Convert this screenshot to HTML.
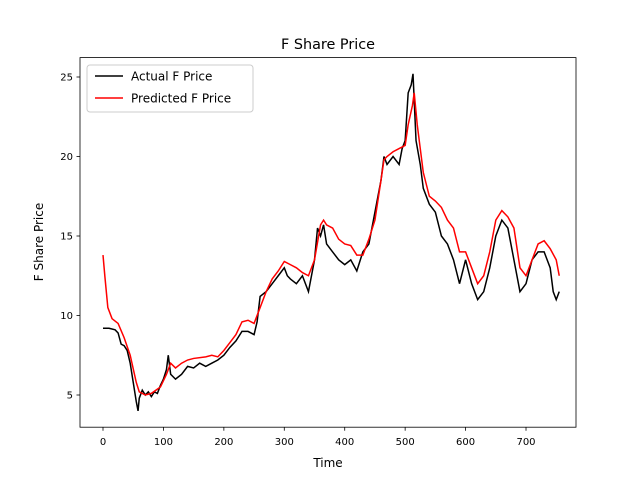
<!DOCTYPE html>
<html><head><meta charset="utf-8"><style>
body{margin:0;background:#fff}
text{font-family:"DejaVu Sans","Liberation Sans",sans-serif;fill:#000}
</style></head><body>
<svg id="chart" width="640" height="480" xmlns="http://www.w3.org/2000/svg">
<rect width="640" height="480" fill="#fff"/>
<text x="328" y="49" font-size="14.4" text-anchor="middle">F Share Price</text>
<g id="plot"></g>
<rect x="80" y="57.6" width="496" height="369.6" fill="none" stroke="#000" stroke-width="0.8"/>
<text x="328" y="467" font-size="12" text-anchor="middle">Time</text>
<text transform="translate(43,242) rotate(-90)" font-size="12" text-anchor="middle">F Share Price</text>
<g>
<rect x="87" y="65" width="166" height="47" rx="3" fill="#fff" fill-opacity="0.8" stroke="#ccc" stroke-width="1"/>
<line x1="95" y1="76" x2="123" y2="76" stroke="#000" stroke-width="1.5"/>
<text x="131" y="80.5" font-size="12">Actual F Price</text>
<line x1="95" y1="98" x2="123" y2="98" stroke="red" stroke-width="1.5"/>
<text x="131" y="102.5" font-size="12">Predicted F Price</text>
</g>
</svg>
<script>
const xTicks=[0,100,200,300,400,500,600,700];
const yTicks=[5,10,15,20,25];
const actualT=[0,10,20,25,30,35,40,45,50,55,58,60,65,70,75,80,85,90,95,100,105,108,112,120,130,140,150,160,170,180,190,200,210,220,230,240,250,255,260,270,280,290,300,305,310,320,330,340,350,355,360,365,370,380,390,400,410,420,430,440,450,460,465,470,480,490,495,500,505,510,513,518,525,530,540,550,560,570,580,590,600,610,620,630,640,650,660,670,680,690,700,710,720,730,740,745,750,755];
const actualV=[9.2,9.2,9.1,8.9,8.2,8.1,7.8,7.0,5.8,4.6,4.0,4.8,5.3,5.0,5.2,4.9,5.2,5.1,5.6,6.0,6.6,7.5,6.3,6.0,6.3,6.8,6.7,7.0,6.8,7.0,7.2,7.5,8.0,8.4,9.0,9.0,8.8,9.6,11.2,11.5,12.0,12.5,13.0,12.5,12.3,12.0,12.5,11.5,13.5,15.5,15.0,15.7,14.5,14.0,13.5,13.2,13.5,12.8,14.0,14.5,16.5,18.5,20.0,19.5,20.0,19.5,20.5,21.0,24.0,24.5,25.2,21.0,19.5,18.0,17.0,16.5,15.0,14.5,13.5,12.0,13.5,12.0,11.0,11.5,13.0,15.0,16.0,15.5,13.5,11.5,12.0,13.5,14.0,14.0,13.0,11.5,11.0,11.5];
const predT=[0,3,8,15,25,35,45,55,60,70,80,95,105,112,120,130,140,150,170,180,190,200,210,220,230,240,250,260,270,280,290,300,310,320,330,340,350,360,365,370,380,390,400,410,420,430,440,450,460,465,470,480,490,500,505,512,515,520,525,530,540,550,560,570,580,590,600,610,620,630,640,650,660,670,680,690,700,710,720,730,740,750,755];
const predV=[13.8,12.5,10.5,9.8,9.5,8.6,7.5,5.8,5.2,5.0,5.1,5.5,6.3,7.0,6.7,7.0,7.2,7.3,7.4,7.5,7.4,7.8,8.3,8.8,9.6,9.7,9.5,10.5,11.5,12.3,12.8,13.4,13.2,13.0,12.7,12.5,13.5,15.7,16.0,15.7,15.5,14.8,14.5,14.4,13.8,13.8,14.8,16.0,18.5,19.8,20.0,20.3,20.5,20.7,22.0,23.2,24.0,22.0,20.5,19.0,17.5,17.2,16.8,16.0,15.5,14.0,14.0,13.0,12.0,12.5,14.0,16.0,16.6,16.2,15.5,13.0,12.5,13.5,14.5,14.7,14.2,13.5,12.5];
const X=t=>103+t*0.6043;
const Y=v=>395-(v-5)*15.9;
const ns="http://www.w3.org/2000/svg";
const g=document.getElementById('plot');
function mk(tag,attrs){const e=document.createElementNS(ns,tag);for(const k in attrs)e.setAttribute(k,attrs[k]);g.appendChild(e);return e;}
xTicks.forEach(t=>{
  const l=mk('line',{x1:X(t),x2:X(t),y1:427.2,y2:430.7,stroke:'#000','stroke-width':0.8});
  
  
  const s=mk('text',{x:X(t),y:445,'font-size':10,'text-anchor':'middle'});s.textContent=t;
  
  
});
yTicks.forEach(v=>{
  const l=mk('line',{x1:76.5,x2:80,y1:Y(v),y2:Y(v),stroke:'#000','stroke-width':0.8});
  
  
  const s=mk('text',{x:73,y:Y(v)+3.5,'font-size':10,'text-anchor':'end'});s.textContent=v;
  
  
});
const a=mk('polyline',{points:actualT.map((t,i)=>X(t)+','+Y(actualV[i])).join(' '),fill:'none',stroke:'#000','stroke-width':1.5});


const p=mk('polyline',{points:predT.map((t,i)=>X(t)+','+Y(predV[i])).join(' '),fill:'none',stroke:'red','stroke-width':1.5});


</script>
</body></html>
